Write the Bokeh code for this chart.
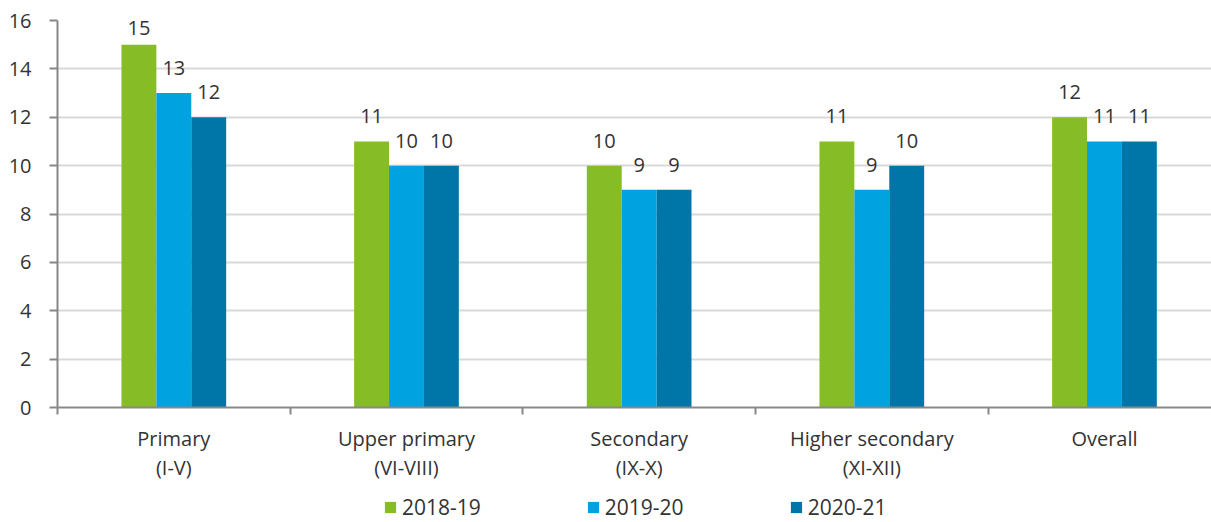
import numpy as np
from bokeh.plotting import figure
from bokeh.layouts import column
from bokeh.models import (Range1d, FixedTicker, Legend, LegendItem, ColumnDataSource)
from bokeh.core.properties import value
from bokeh.embed import file_html
from bokeh.resources import INLINE

# ---- data ----
categories = ["Primary\n(I-V)", "Upper primary\n(VI-VIII)", "Secondary\n(IX-X)",
              "Higher secondary\n(XI-XII)", "Overall"]
series_names = ["2018-19", "2019-20", "2020-21"]
vals_2018_19 = [15, 11, 10, 11, 12]
vals_2019_20 = [13, 10, 9, 9, 11]
vals_2020_21 = [12, 10, 9, 10, 11]
y_ticks = [0, 2, 4, 6, 8, 10, 12, 14, 16]

# ---- style ----
FONT = "Open Sans"
FS = "20px"
TXT = "#333333"
AXC = "#888888"
colors = ["#86BC25", "#00A3E0", "#0076A8"]
YMAX = 16
BAR_W = 0.15
offsets = [-BAR_W, 0.0, BAR_W]

n = len(categories)
centers = np.arange(n) + 0.5

p = figure(frame_width=1154, frame_height=387, output_backend="svg", toolbar_location=None,
           x_range=Range1d(0, 4.96), y_range=Range1d(0, YMAX),
           min_border_left=57, min_border_top=20, min_border_right=0,
           min_border_bottom=86)
p.outline_line_color = None

series = [vals_2018_19, vals_2019_20, vals_2020_21]
for vals, off, col in zip(series, offsets, colors):
    p.vbar(x=centers + off, top=vals, width=BAR_W, fill_color=col, line_color=None)
    src = ColumnDataSource(dict(x=centers + off,
                                y=np.minimum(np.array(vals, dtype=float), YMAX - 1.35),
                                lbl=[str(v) for v in vals]))
    p.text(x="x", y="y", text="lbl", source=src, text_align="center",
           text_baseline="alphabetic", y_offset=-25,
           text_font=value(FONT), text_font_size=FS, text_color=TXT)

# y axis
yax = p.yaxis[0]
yax.ticker = FixedTicker(ticks=y_ticks)
yax.axis_line_color = AXC
yax.axis_line_width = 2
yax.major_tick_line_color = AXC
yax.major_tick_line_width = 2
yax.major_tick_out = 8
yax.major_tick_in = 0
yax.minor_tick_line_color = None
yax.major_label_standoff = 18
yax.major_label_text_font = FONT
yax.major_label_text_font_size = FS
yax.major_label_text_color = TXT

# x axis: labels at centres, separator ticks at category boundaries (minor ticks)
xax = p.xaxis[0]
xax.ticker = FixedTicker(ticks=list(centers), minor_ticks=list(range(n)))
xax.major_label_overrides = {float(c): lab for c, lab in zip(centers, categories)}
xax.axis_line_color = AXC
xax.axis_line_width = 2
xax.major_tick_line_color = None
xax.major_tick_out = 7
xax.major_tick_in = 0
xax.minor_tick_line_color = AXC
xax.minor_tick_line_width = 2
xax.minor_tick_out = 7
xax.minor_tick_in = 0
xax.major_label_standoff = 10
xax.major_label_text_font = FONT
xax.major_label_text_font_size = FS
xax.major_label_text_color = TXT
xax.major_label_text_line_height = 1.08

p.xgrid.grid_line_color = None
p.ygrid.ticker = FixedTicker(ticks=y_ticks)
p.ygrid.grid_line_color = "#D9D9D9"
p.ygrid.grid_line_width = 2

# ---- legend in its own strip below ----
pl = figure(frame_width=1154, frame_height=28, output_backend="svg", toolbar_location=None,
            x_range=Range1d(0, 1), y_range=Range1d(0, 1),
            x_axis_location=None, y_axis_location=None,
            min_border_left=57, min_border_right=0, min_border_top=0, min_border_bottom=0)
pl.outline_line_color = None
pl.grid.visible = False
dummies = [pl.vbar(x=[-1], top=[0], width=0.1, fill_color=col, line_color=None) for col in colors]
legend = Legend(items=[LegendItem(label=nm, renderers=[r]) for nm, r in zip(series_names, dummies)],
                orientation="horizontal", location=(326, 0),
                glyph_width=14, glyph_height=14, label_standoff=5, spacing=105,
                border_line_color=None, background_fill_alpha=0,
                label_text_font=FONT, label_text_font_size="21px", label_text_color=TXT,
                padding=0, margin=0)
pl.add_layout(legend)

open("out.html", "w").write(file_html(column(p, pl), INLINE))
